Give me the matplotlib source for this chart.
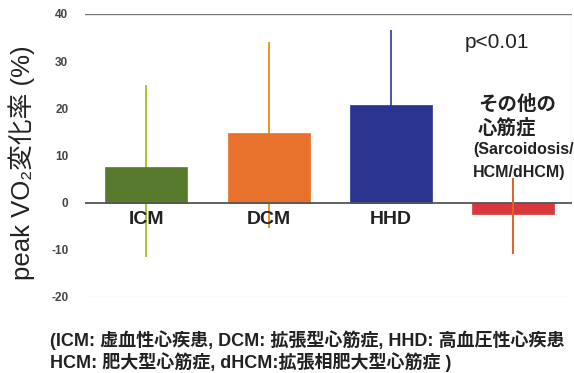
import matplotlib
matplotlib.use("Agg")
import matplotlib.pyplot as plt

plt.rcParams['font.family'] = ['Liberation Sans', 'Noto Sans CJK JP', 'DejaVu Sans']

categories = ["ICM", "DCM", "HHD", "その他"]
means = [7.6, 14.8, 20.6, -2.5]
upper = [25.0, 34.1, 36.7, 5.3]
lower = [-11.6, -5.3, 4.5, -10.9]
bar_colors = ["#587a2c", "#e8712c", "#2a3590", "#d8383a"]
whisker_colors = ["#a6c82c", "#e8962a", "#4a56a6", "#e0602a"]
yticks = [-20, -10, 0, 10, 20, 30, 40]

fig = plt.figure(figsize=(5.74, 3.73), dpi=100)
ax = fig.add_axes([0.148, 0.2038, 0.8485, 0.7587])

x = list(range(len(categories)))
for i in x:
    front = (i == len(categories) - 1)
    ax.vlines(i, lower[i], upper[i], color=whisker_colors[i], lw=1.4,
              zorder=4 if front else 1)
    ax.bar(i, means[i], width=0.67, color=bar_colors[i], zorder=2,
           edgecolor=bar_colors[i], linewidth=0.5)

ax.axhline(0, color="#555555", lw=1.3, zorder=3)
ax.set_xlim(-0.5, 3.48)
ax.set_ylim(-20, 40)
ax.set_yticks(yticks)
ax.set_yticklabels([str(t) for t in yticks], fontsize=8.5, fontweight='bold',
                   color="#444444")
ax.tick_params(axis='y', length=0, pad=12)
ax.set_xticks([])

for s in ['left', 'bottom', 'right', 'top']:
    ax.spines[s].set_visible(False)
ax.axhline(40, color="#777777", lw=1.0, zorder=0)
ax.axhline(-20, color="#bbbbbb", lw=0.8, zorder=0)
ax.vlines(3.48, 0, 40, color="#999999", lw=0.8, zorder=0)

for i, lab in enumerate(categories[:3]):
    ax.text(i, -1.8, lab, ha='center', va='top', fontsize=14,
            fontweight='bold', color="#222222", zorder=5)

ax.text(2.6, 33.9, "p<0.01", fontsize=15, color="#222222", ha='left', va='center')
ax.text(2.71, 20.8, "その他の", fontsize=14, fontweight='bold', color="#222222",
        ha='left', va='center')
ax.text(2.71, 15.8, "心筋症", fontsize=14, fontweight='bold', color="#222222",
        ha='left', va='center')
ax.text(2.67, 11.2, "(Sarcoidosis/", fontsize=11.5, fontweight='bold', color="#222222",
        ha='left', va='center')
ax.text(2.67, 6.3, "HCM/dHCM)", fontsize=11.5, fontweight='bold', color="#222222",
        ha='left', va='center')

fig.text(0.038, 0.563, "peak VO₂変化率 (%)", rotation=90, fontsize=18.5,
         ha='center', va='center', color="#222222")

fig.text(0.087, 0.088, "(ICM: 虚血性心疾患, DCM: 拡張型心筋症, HHD: 高血圧性心疾患",
         fontsize=13, fontweight='bold', color="#222222", ha='left', va='center')
fig.text(0.087, 0.030, "HCM: 肥大型心筋症, dHCM:拡張相肥大型心筋症 )",
         fontsize=13, fontweight='bold', color="#222222", ha='left', va='center')

fig.savefig("out.png", dpi=100)
